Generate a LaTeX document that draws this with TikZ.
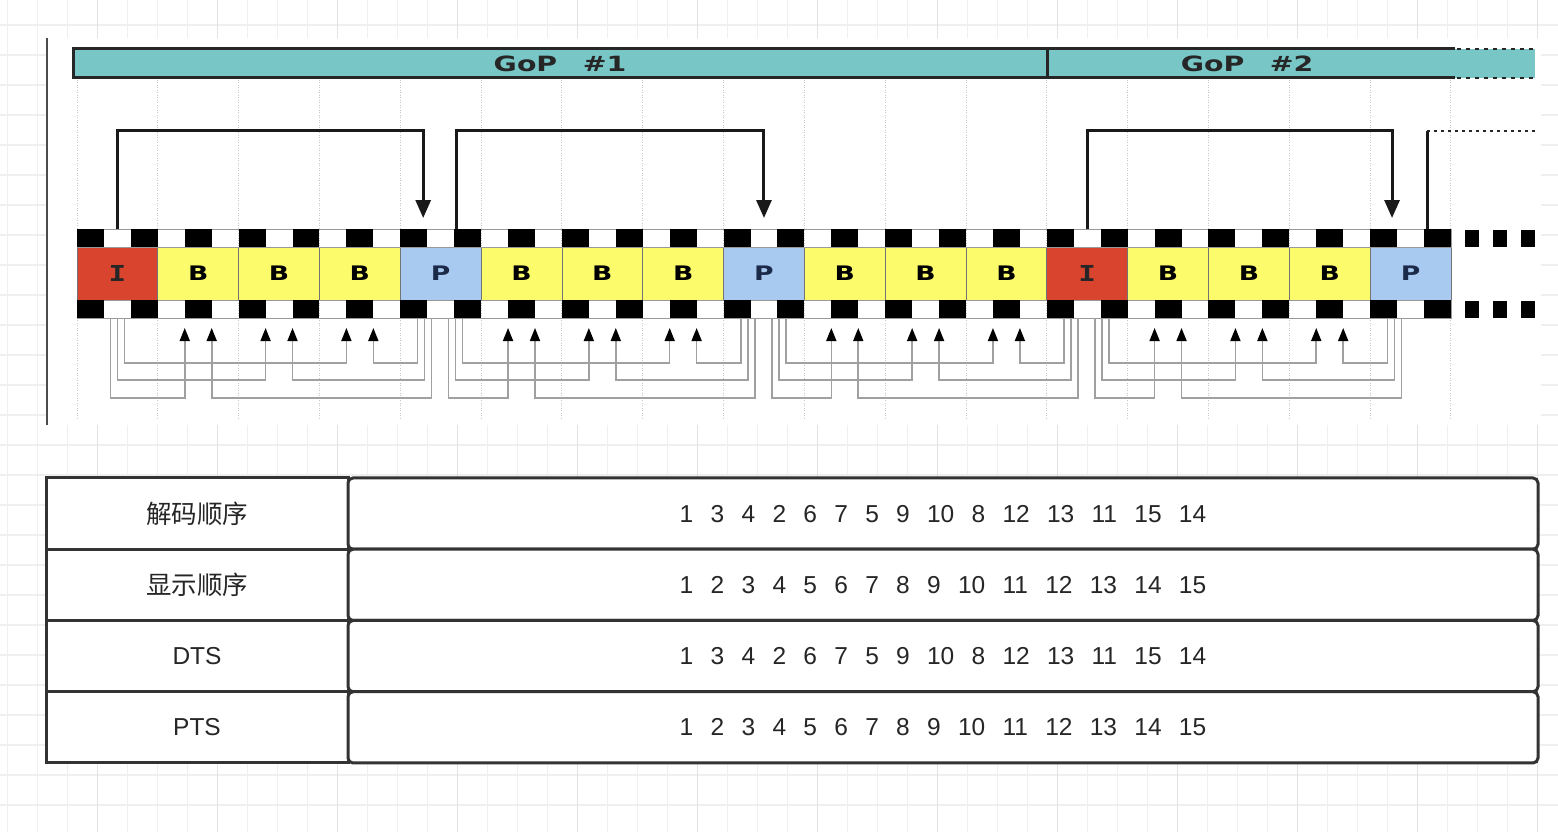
\documentclass[tikz,border=0pt]{standalone}
\usepackage{fontspec}
\usepackage{graphicx}
\setmainfont{Liberation Sans}
\newfontfamily\cjk{Noto Sans CJK SC}
\newfontfamily\framefont{DejaVu Sans}
\newfontfamily\monoframe{DejaVu Sans Mono}
\usetikzlibrary{arrows.meta,positioning}

\definecolor{iframe}{HTML}{D9442F}
\definecolor{bframe}{HTML}{FCFB6C}
\definecolor{pframe}{HTML}{A8C9F0}
\definecolor{gopteal}{HTML}{78C6C6}
\definecolor{pletter}{HTML}{1B2A48}
\definecolor{gridminor}{HTML}{EFEFEF}
\definecolor{gridmajor}{HTML}{E2E2E2}
\definecolor{refgray}{HTML}{A0A0A0}

\newcommand{\widetext}[1]{\scalebox{1.33}[1]{#1}}
\newcommand{\seqtext}[1]{{\spaceskip=17.3pt\relax #1}}

\tikzset{
  gridline/.style={draw=gridminor,line width=1.2pt},
  gridbold/.style={draw=gridmajor,line width=1.2pt},
  guide/.style={draw=black!22,line width=1pt,dash pattern=on 1pt off 1.5pt},
  barline/.style={line width=3pt,black!85},
  dotline/.style={black!85,line width=2pt,dash pattern=on 3pt off 4pt},
  goplabel/.style={inner sep=0pt,text=black!85,font=\framefont\bfseries\fontsize{21}{21}\selectfont},
  vframe/.style={minimum width=80.82pt,minimum height=53pt,inner sep=0pt,outer sep=0pt,
    draw=black!55,line width=0.8pt,font=\framefont\bfseries\fontsize{20}{20}\selectfont},
  fwdref/.style={line width=3pt,black!90,-{Triangle[width=15pt,length=18pt]}},
  backref/.style={draw=refgray,line width=1.6pt,-{Triangle[width=10pt,length=13pt,color=black]}},
  labelcell/.style={minimum width=302pt,minimum height=71.25pt,inner sep=0pt,outer sep=0pt,
    draw=black!80,line width=3pt,fill=white,text=black!85,font=\fontsize{24.5}{24.5}\selectfont},
  seqcell/.style={labelcell,minimum width=1190pt,rounded corners=5pt}
}

\begin{document}
\begin{tikzpicture}[x=1pt,y=-1pt]
\useasboundingbox (0,0) rectangle (1558,832);

% canvas grid
\foreach \gx in {7.3,37.3,...,1557} \draw[gridline] (\gx,0) -- (\gx,832);
\foreach \gy in {25,55,...,831} \draw[gridline] (0,\gy) -- (1558,\gy);
\foreach \gx in {97.3,217.3,...,1557} \draw[gridbold] (\gx,0) -- (\gx,832);

% pasted picture
\fill[white] (47,38) rectangle (1541,425);
\draw[black!70,line width=1.5pt] (47,38) -- (47,425);
\foreach \k in {0,...,17} \draw[guide] (77+\k*80.82,80) -- (77+\k*80.82,420);

% GoP bar
\fill[gopteal] (73,49) rectangle (1535,78);
\draw[barline] (1455,49) -- (73,49) -- (73,78) -- (1455,78);
\draw[barline] (1047,49) -- (1047,78);
\draw[black!85,line width=2.5pt,dash pattern=on 4pt off 5pt] (1457,49) -- (1535,49);
\draw[black!85,line width=2.5pt,dash pattern=on 4pt off 5pt] (1457,78) -- (1535,78);
\node[goplabel] (gop1) at (560,64) {\scalebox{1.35}[1]{GoP\hspace{0.9em}\#1}};
\node[goplabel] (gop2) at (1247,64) {\scalebox{1.35}[1]{GoP\hspace{0.9em}\#2}};

% frames
\node[vframe,fill=iframe,text=black!85,font=\monoframe\bfseries\fontsize{22}{22}\selectfont] (f0) at (117.41,273.5) {\widetext{I}};
\node[vframe,fill=bframe,anchor=west] (f1) at (f0.east) {\widetext{B}};
\node[vframe,fill=bframe,anchor=west] (f2) at (f1.east) {\widetext{B}};
\node[vframe,fill=bframe,anchor=west] (f3) at (f2.east) {\widetext{B}};
\node[vframe,fill=pframe,text=pletter,anchor=west] (f4) at (f3.east) {\widetext{P}};
\node[vframe,fill=bframe,anchor=west] (f5) at (f4.east) {\widetext{B}};
\node[vframe,fill=bframe,anchor=west] (f6) at (f5.east) {\widetext{B}};
\node[vframe,fill=bframe,anchor=west] (f7) at (f6.east) {\widetext{B}};
\node[vframe,fill=pframe,text=pletter,anchor=west] (f8) at (f7.east) {\widetext{P}};
\node[vframe,fill=bframe,anchor=west] (f9) at (f8.east) {\widetext{B}};
\node[vframe,fill=bframe,anchor=west] (f10) at (f9.east) {\widetext{B}};
\node[vframe,fill=bframe,anchor=west] (f11) at (f10.east) {\widetext{B}};
\node[vframe,fill=iframe,text=black!85,font=\monoframe\bfseries\fontsize{22}{22}\selectfont,anchor=west] (f12) at (f11.east) {\widetext{I}};
\node[vframe,fill=bframe,anchor=west] (f13) at (f12.east) {\widetext{B}};
\node[vframe,fill=bframe,anchor=west] (f14) at (f13.east) {\widetext{B}};
\node[vframe,fill=bframe,anchor=west] (f15) at (f14.east) {\widetext{B}};
\node[vframe,fill=pframe,text=pletter,anchor=west] (f16) at (f15.east) {\widetext{P}};

% sprocket holes
\draw[black!40,line width=0.8pt] (77,229) rectangle (1451,247);
\draw[black!40,line width=0.8pt] (77,300) rectangle (1451,318);
\foreach \i in {0,2,...,50} {
  \fill (77+\i*26.94,229) rectangle ++(26.94,18);
  \fill (77+\i*26.94,300) rectangle ++(26.94,18);
}
\foreach \x in {1465,1493,1521} {
  \fill (\x,230) rectangle ++(14,17);
  \fill (\x,301) rectangle ++(14,17);
}

% forward references
\draw[fwdref] (f0.north) ++(0,-18) -- ++(0,-98) -| ([xshift=-17.5pt,yshift=29pt]f4.north);
\draw[fwdref] ([xshift=15.5pt]f4.north) ++(0,-18) -- ++(0,-98) -| ([yshift=29pt]f8.north);
\draw[fwdref] (f12.north) ++(0,-18) -- ++(0,-98) -| ([xshift=-18.5pt,yshift=29pt]f16.north);
\coordinate (gopnext) at (1535,131);
\draw[line width=3pt,black!90] ([xshift=16.5pt]f16.north) ++(0,-18) -- ++(0,-98) coordinate (turn);
\draw[dotline] (turn) -- (gopnext);

% bidirectional references
\foreach \a/\base in {0/-7,4/8,8/8,12/8}{
  \foreach \n/\dep in {1/80,2/62,3/45}{
    \pgfmathtruncatemacro{\bi}{\a+\n}
    \pgfmathtruncatemacro{\ci}{\a+4}
    \pgfmathsetmacro{\lshift}{\base+7*(\n-1)}
    \pgfmathsetmacro{\rshift}{-2-7*\n}
    \draw[backref] ([xshift=\lshift pt]f\a.south) ++(0,18) -- ++(0,\dep) -| ([xshift=-13.47pt,yshift=-28pt]f\bi.south);
    \draw[backref] ([xshift=\rshift pt]f\ci.south) ++(0,18) -- ++(0,\dep) -| ([xshift=13.47pt,yshift=-28pt]f\bi.south);
  }
}

% order table
\node[labelcell,font=\cjk\fontsize{25.5}{25.5}\selectfont] (l1) at (197,513.6) {解码顺序};
\node[labelcell,font=\cjk\fontsize{25.5}{25.5}\selectfont,anchor=north] (l2) at (l1.south) {显示顺序};
\node[labelcell,anchor=north] (l3) at (l2.south) {DTS};
\node[labelcell,anchor=north] (l4) at (l3.south) {PTS};
\node[seqcell,anchor=west] (s1) at (l1.east) {\seqtext{1 3 4 2 6 7 5 9 10 8 12 13 11 15 14}};
\node[seqcell,anchor=west] (s2) at (l2.east) {\seqtext{1 2 3 4 5 6 7 8 9 10 11 12 13 14 15}};
\node[seqcell,anchor=west] (s3) at (l3.east) {\seqtext{1 3 4 2 6 7 5 9 10 8 12 13 11 15 14}};
\node[seqcell,anchor=west] (s4) at (l4.east) {\seqtext{1 2 3 4 5 6 7 8 9 10 11 12 13 14 15}};
\end{tikzpicture}
\end{document}
